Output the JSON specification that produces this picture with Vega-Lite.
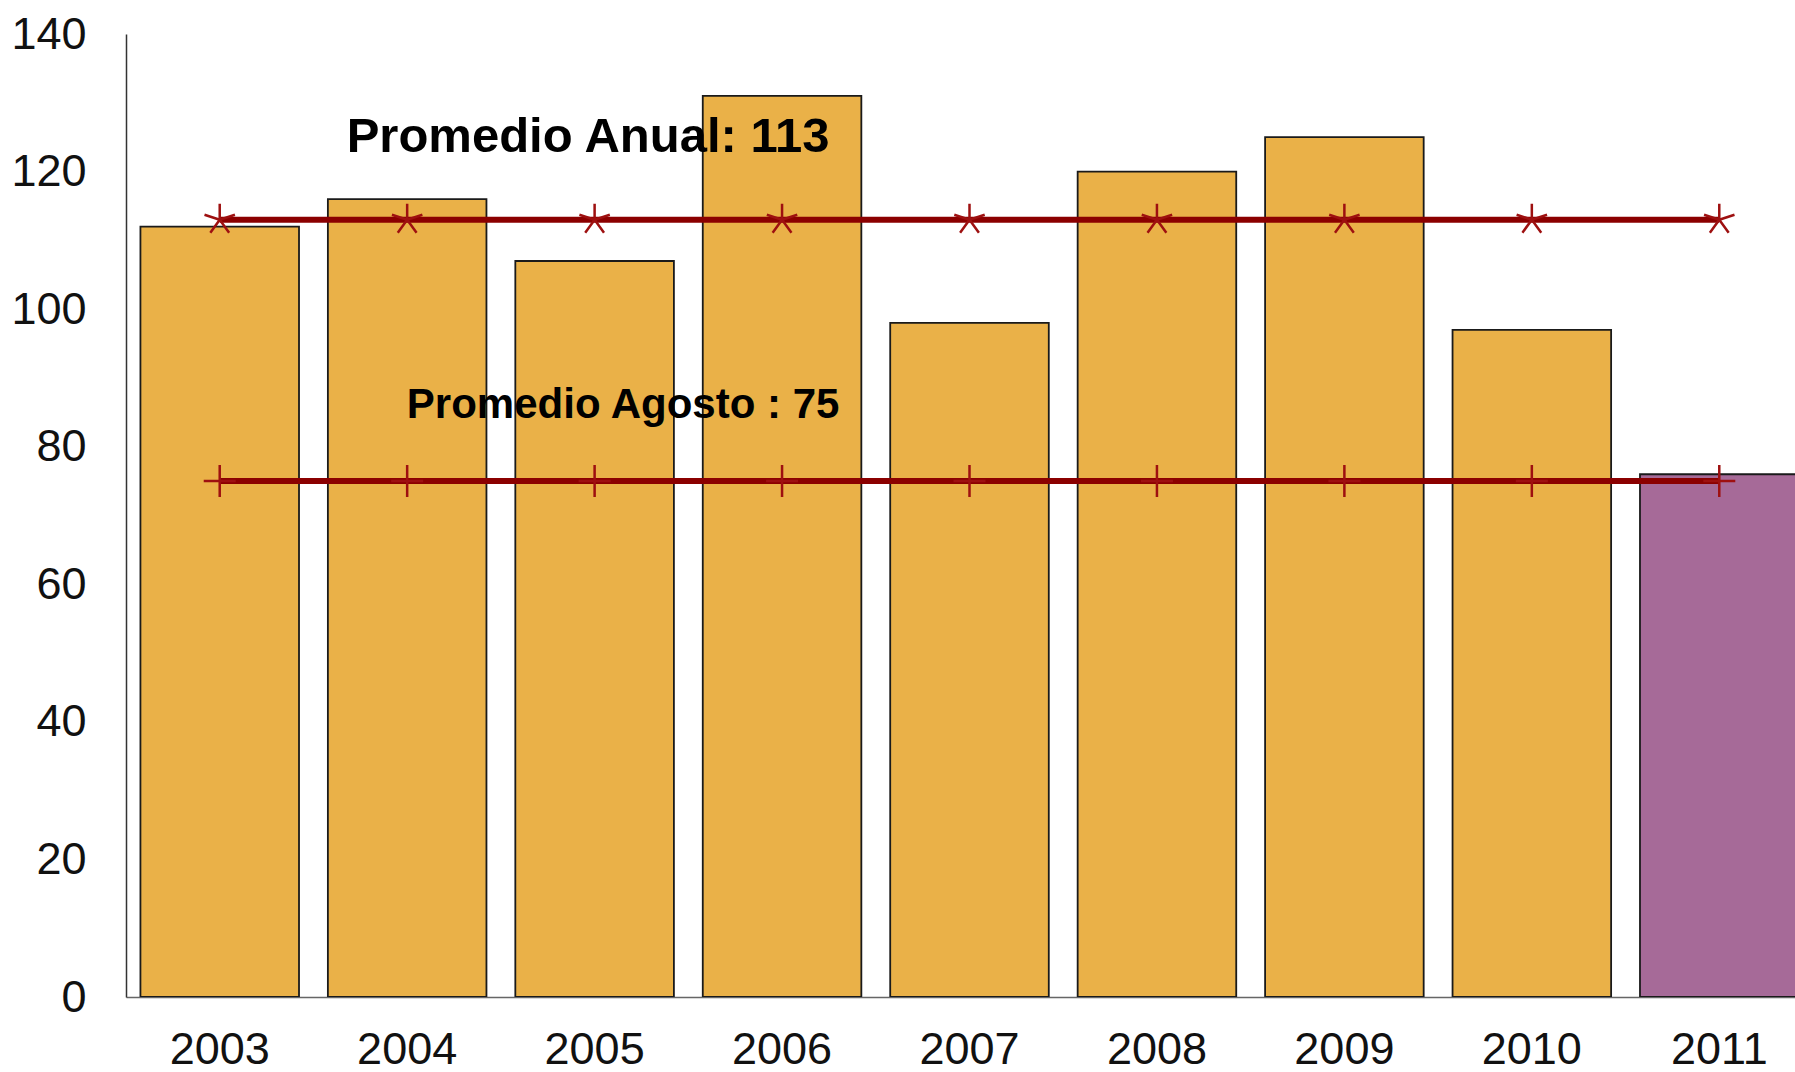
{
  "$schema": "https://vega.github.io/schema/vega-lite/v6.json",
  "width": 1669,
  "height": 963,
  "autosize": {"type": "none"},
  "padding": {"left": 126, "top": 34, "right": 0, "bottom": 75},
  "background": "white",
  "config": {
    "view": {"stroke": null},
    "axis": {
      "grid": false,
      "ticks": false,
      "tickSize": 0,
      "labelFont": "Liberation Sans",
      "labelFontSize": 45,
      "labelColor": "#111111",
      "domainColor": "#333333",
      "domainWidth": 1.5,
      "title": null
    }
  },
  "datasets": {
    "bars": [
      {"year": "2003", "value": 112, "type": "hist"},
      {"year": "2004", "value": 116, "type": "hist"},
      {"year": "2005", "value": 107, "type": "hist"},
      {"year": "2006", "value": 131, "type": "hist"},
      {"year": "2007", "value": 98, "type": "hist"},
      {"year": "2008", "value": 120, "type": "hist"},
      {"year": "2009", "value": 125, "type": "hist"},
      {"year": "2010", "value": 97, "type": "hist"},
      {"year": "2011", "value": 76, "type": "actual"}
    ],
    "lines": [
      {"year": "2003", "value": 113, "series": "anual"},
      {"year": "2004", "value": 113, "series": "anual"},
      {"year": "2005", "value": 113, "series": "anual"},
      {"year": "2006", "value": 113, "series": "anual"},
      {"year": "2007", "value": 113, "series": "anual"},
      {"year": "2008", "value": 113, "series": "anual"},
      {"year": "2009", "value": 113, "series": "anual"},
      {"year": "2010", "value": 113, "series": "anual"},
      {"year": "2011", "value": 113, "series": "anual"},
      {"year": "2003", "value": 75, "series": "agosto"},
      {"year": "2004", "value": 75, "series": "agosto"},
      {"year": "2005", "value": 75, "series": "agosto"},
      {"year": "2006", "value": 75, "series": "agosto"},
      {"year": "2007", "value": 75, "series": "agosto"},
      {"year": "2008", "value": 75, "series": "agosto"},
      {"year": "2009", "value": 75, "series": "agosto"},
      {"year": "2010", "value": 75, "series": "agosto"},
      {"year": "2011", "value": 75, "series": "agosto"}
    ]
  },
  "layer": [
    {
      "data": {"name": "bars"},
      "mark": {"type": "bar", "stroke": "#1a1a1a", "strokeWidth": 1.8, "clip": true},
      "encoding": {
        "x": {
          "field": "year", "type": "nominal", "sort": null,
          "scale": {"range": [0, 1687], "paddingInner": 0.154, "paddingOuter": 0.077},
          "axis": {"labelAngle": 0, "labelPadding": 30, "domainColor": "#666666"}
        },
        "y": {
          "field": "value", "type": "quantitative",
          "scale": {"domain": [0, 140], "nice": false},
          "axis": {"values": [0, 20, 40, 60, 80, 100, 120, 140], "labelPadding": 40}
        },
        "color": {
          "field": "type", "type": "nominal",
          "scale": {"domain": ["hist", "actual"], "range": ["#EAB148", "#A66A98"]},
          "legend": null
        }
      }
    },
    {
      "data": {"name": "lines"},
      "mark": {"type": "line", "color": "#8B0000", "strokeWidth": 6, "strokeCap": "butt", "clip": true},
      "encoding": {
        "x": {"field": "year", "type": "nominal", "sort": null},
        "y": {"field": "value", "type": "quantitative"},
        "detail": {"field": "series"}
      }
    },
    {
      "data": {"name": "lines"},
      "transform": [{"filter": "datum.series == 'anual'"}],
      "mark": {
        "type": "point",
        "shape": "M0,0L0,-1M0,0L0.951,-0.309M0,0L-0.951,-0.309M0,0L0.588,0.809M0,0L-0.588,0.809",
        "filled": false,
        "stroke": "#9E1010",
        "strokeWidth": 2.5,
        "opacity": 1,
        "size": 1024
      },
      "encoding": {
        "x": {"field": "year", "type": "nominal", "sort": null},
        "y": {"field": "value", "type": "quantitative"}
      }
    },
    {
      "data": {"name": "lines"},
      "transform": [{"filter": "datum.series == 'agosto'"}],
      "mark": {
        "type": "point",
        "shape": "M0,-1L0,1M-1,0L1,0",
        "filled": false,
        "stroke": "#9E1010",
        "strokeWidth": 2.5,
        "opacity": 1,
        "size": 1024
      },
      "encoding": {
        "x": {"field": "year", "type": "nominal", "sort": null},
        "y": {"field": "value", "type": "quantitative"}
      }
    },
    {
      "data": {"values": [{"year": "2005", "value": 113, "label": "Promedio Anual: 113"}]},
      "mark": {
        "type": "text", "font": "Liberation Sans", "fontWeight": "bold", "fontSize": 49,
        "color": "#000000", "align": "center", "baseline": "alphabetic", "dx": -6.5, "dy": -68
      },
      "encoding": {
        "x": {"field": "year", "type": "nominal", "sort": null},
        "y": {"field": "value", "type": "quantitative"},
        "text": {"field": "label"}
      }
    },
    {
      "data": {"values": [{"year": "2005", "value": 75, "label": "Promedio Agosto : 75"}]},
      "mark": {
        "type": "text", "font": "Liberation Sans", "fontWeight": "bold", "fontSize": 42,
        "color": "#000000", "align": "center", "baseline": "alphabetic", "dx": 28.5, "dy": -63
      },
      "encoding": {
        "x": {"field": "year", "type": "nominal", "sort": null},
        "y": {"field": "value", "type": "quantitative"},
        "text": {"field": "label"}
      }
    }
  ]
}
